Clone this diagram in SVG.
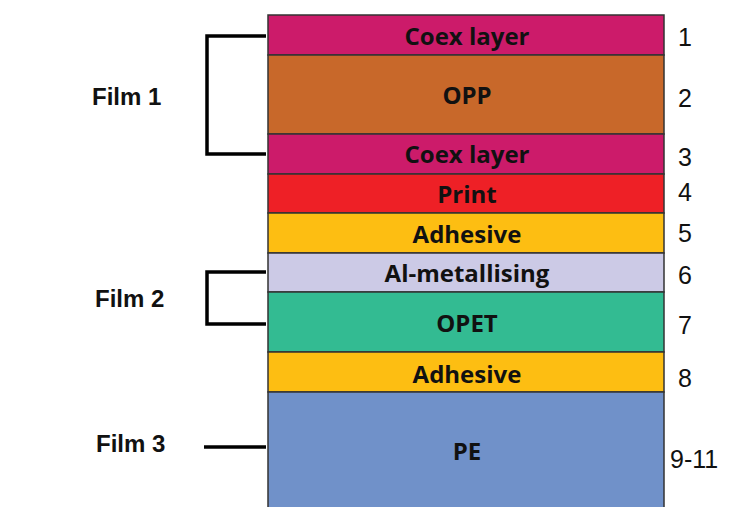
<svg xmlns="http://www.w3.org/2000/svg" width="732" height="507" viewBox="0 0 732 507">
<style>
.layer rect{stroke:#333;stroke-width:1.5}
.lt{font-family:"Open Sans","Lato",sans-serif;font-weight:bold;font-size:24px;fill:#111;text-anchor:middle}
.num{font-family:"Liberation Sans",Arial,sans-serif;font-size:25px;fill:#111}
.film{font-family:"Liberation Sans",Arial,sans-serif;font-weight:bold;font-size:24px;fill:#111}
.br{fill:none;stroke:#000;stroke-width:3.5}
</style>
<rect width="732" height="507" fill="#fff"/>
<g id="layer1" class="layer"><rect x="268" y="15" width="396" height="40" fill="#CC1B6A"/><text class="lt" x="467" y="45">Coex layer</text><text class="num" x="678" y="46">1</text></g>
<g id="layer2" class="layer"><rect x="268" y="55" width="396" height="79" fill="#C8682A"/><text class="lt" x="467" y="104">OPP</text><text class="num" x="678" y="107">2</text></g>
<g id="layer3" class="layer"><rect x="268" y="134" width="396" height="40" fill="#CC1B6A"/><text class="lt" x="467" y="163">Coex layer</text><text class="num" x="678" y="166">3</text></g>
<g id="layer4" class="layer"><rect x="268" y="174" width="396" height="39" fill="#EE2026"/><text class="lt" x="467" y="203">Print</text><text class="num" x="678" y="201">4</text></g>
<g id="layer5" class="layer"><rect x="268" y="213" width="396" height="40" fill="#FDBE12"/><text class="lt" x="467" y="243">Adhesive</text><text class="num" x="678" y="242">5</text></g>
<g id="layer6" class="layer"><rect x="268" y="253" width="396" height="39" fill="#CCCAE6"/><text class="lt" x="467" y="282">Al-metallising</text><text class="num" x="678" y="284">6</text></g>
<g id="layer7" class="layer"><rect x="268" y="292" width="396" height="60" fill="#33BB92"/><text class="lt" x="467" y="332">OPET</text><text class="num" x="678" y="334">7</text></g>
<g id="layer8" class="layer"><rect x="268" y="352" width="396" height="40" fill="#FDBE12"/><text class="lt" x="467" y="383">Adhesive</text><text class="num" x="678" y="387">8</text></g>
<g id="layer9" class="layer"><rect x="268" y="392" width="396" height="120" fill="#7091C9"/><text class="lt" x="467" y="460">PE</text><text class="num" x="670" y="468">9-11</text></g>
<g id="film1"><text class="film" x="92" y="105">Film 1</text></g>
<g id="film2"><text class="film" x="95" y="307">Film 2</text></g>
<g id="film3"><text class="film" x="96" y="452">Film 3</text></g>
<g id="connectors">
<path class="br" d="M266 36 H207 V154 H266"/>
<path class="br" d="M266 272 H207 V324 H266"/>
<path class="br" d="M204 447 H266"/>
</g>
</svg>
